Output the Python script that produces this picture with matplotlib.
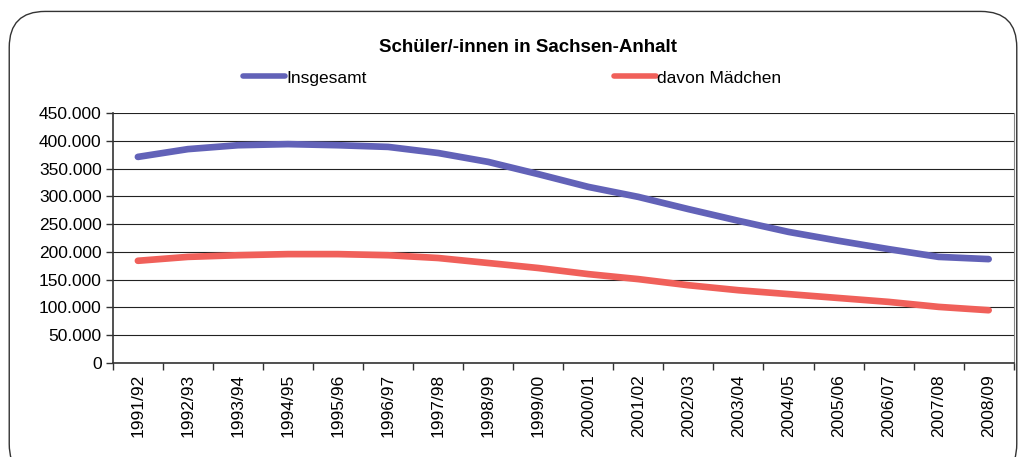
import matplotlib.pyplot as plt
import numpy as np
from matplotlib.patches import FancyBboxPatch
from matplotlib.lines import Line2D
from matplotlib.ticker import FuncFormatter, FixedLocator

plt.rcParams['font.family'] = ['Liberation Sans', 'DejaVu Sans']

# Schuljahre und Schülerzahlen
jahre = ['1991/92', '1992/93', '1993/94', '1994/95', '1995/96', '1996/97',
         '1997/98', '1998/99', '1999/00', '2000/01', '2001/02', '2002/03',
         '2003/04', '2004/05', '2005/06', '2006/07', '2007/08', '2008/09']
insgesamt = [371000, 385000, 392000, 394000, 392000, 389000, 378000, 362000,
             340000, 317000, 299000, 277000, 256000, 236000, 220000, 205000,
             191000, 187000]
maedchen = [184000, 191000, 194000, 196000, 196000, 194000, 189000, 180000,
            171000, 160000, 151000, 140000, 131000, 124000, 117000, 110000,
            101000, 95000]

blau = '#6262b8'
rot = '#f0605a'

fig = plt.figure(figsize=(10.26, 4.57), dpi=100)

# abgerundeter Rahmen
rahmen = FancyBboxPatch((0.009, -0.05), 0.982, 1.025,
                        boxstyle='round,pad=0,rounding_size=0.035',
                        transform=fig.transFigure, fill=False,
                        edgecolor='#333333', linewidth=1.0,
                        mutation_aspect=1026 / 457)
fig.patches.append(rahmen)

ax = fig.add_axes([0.110, 0.2057, 0.878, 0.547])
x = np.arange(len(jahre))
ax.plot(x, insgesamt, color=blau, linewidth=4.8, solid_capstyle='round',
        solid_joinstyle='round')
ax.plot(x, maedchen, color=rot, linewidth=4.8, solid_capstyle='round',
        solid_joinstyle='round')

ax.set_xlim(-0.5, len(jahre) - 0.5)
ax.set_ylim(0, 450000)
ax.set_yticks(np.arange(0, 450001, 50000))
ax.yaxis.set_major_formatter(FuncFormatter(lambda v, p: f'{int(v):,}'.replace(',', '.')))
ax.grid(axis='y', color='#222222', linewidth=0.8)
ax.set_axisbelow(True)

ax.set_xticks(x)
ax.set_xticklabels(jahre, rotation=90)
ax.xaxis.set_minor_locator(FixedLocator(np.arange(-0.5, len(jahre), 1)))
ax.tick_params(axis='x', which='major', length=0, pad=8, labelsize=12.5)
ax.tick_params(axis='x', which='minor', length=5, width=1, color='#333333')
ax.tick_params(axis='y', length=5, width=1, color='#333333', labelsize=12.5, pad=3)

ax.spines['left'].set_color('#333333')
ax.spines['left'].set_linewidth(1.2)
ax.spines['bottom'].set_color('#333333')
ax.spines['bottom'].set_linewidth(1.2)
ax.spines['top'].set_visible(False)
ax.spines['right'].set_color('#888888')
ax.spines['right'].set_linewidth(0.8)

fig.text(0.5145, 0.895, 'Schüler/-innen in Sachsen-Anhalt', ha='center',
         va='center', fontsize=13.5, fontweight='bold')

# Legende
fig.add_artist(Line2D([0.237, 0.278], [0.834, 0.834], color=blau, linewidth=4,
                      solid_capstyle='round', transform=fig.transFigure))
fig.text(0.279, 0.828, 'Insgesamt', ha='left', va='center', fontsize=12.5)
fig.add_artist(Line2D([0.598, 0.639], [0.834, 0.834], color=rot, linewidth=4,
                      solid_capstyle='round', transform=fig.transFigure))
fig.text(0.640, 0.828, 'davon Mädchen', ha='left', va='center', fontsize=12.5)

fig.savefig('out.png', dpi=100)
